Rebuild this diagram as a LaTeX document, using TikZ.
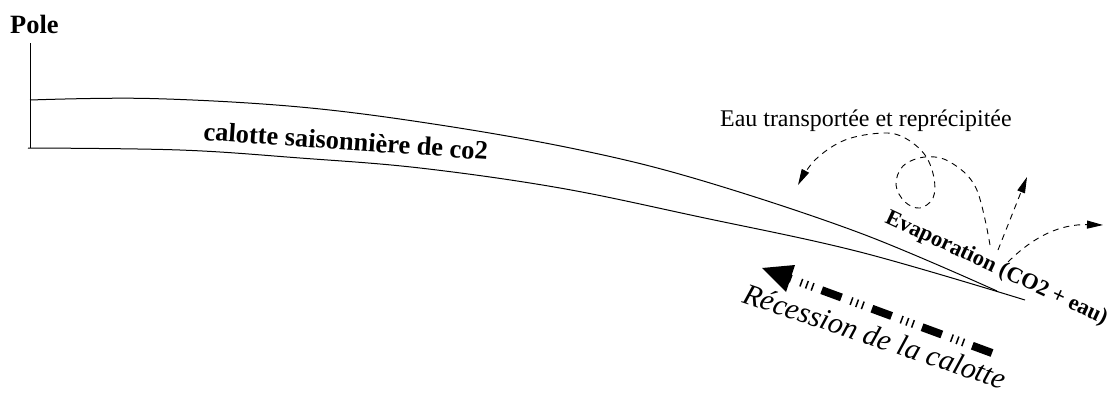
\documentclass[tikz,border=0pt]{standalone}
\usepackage{fontspec}
\setmainfont{Liberation Serif}
\usetikzlibrary{arrows.meta}
\begin{document}
\begin{tikzpicture}[x=1bp,y=-1bp,
  capline/.style={line width=1bp},
  flow/.style={line width=0.9bp, dash pattern=on 6bp off 5bp, -{Triangle[length=16bp,width=8bp]}},
  recess/.style={line width=8bp, dash pattern=on 21bp off 9bp on 1.5bp off 4.5bp on 1.5bp off 4.5bp on 1.5bp off 10bp},
  lbl/.style={inner sep=0pt, anchor=base west}]
\useasboundingbox (0,0) rectangle (1114,395);

% pole and cap
\coordinate (ptop) at (30,43);
\coordinate (pbot) at (30,148);
\coordinate (ustart) at (30,100);
\coordinate (uend) at (997,291);
\coordinate (lstart) at (28,148);
\coordinate (lend) at (1025,300);
\draw[capline] (ptop) -- (pbot);
\draw[capline] plot[smooth, tension=0.6] coordinates {(30,100) (150,98.5) (300,107) (440,125) (580,150) (700,180) (860,233) (997,291)};
\draw[capline] plot[smooth, tension=0.6] coordinates {(28,148) (180,150) (300,158) (420,168) (560,188) (700,217) (860,252) (1025,300)};

% labels
\node[lbl, font=\bfseries\fontsize{26.5}{30}\selectfont] (pole) at (10,33) {Pole};
\node[lbl, rotate=-4, font=\bfseries\fontsize{26.5}{30}\selectfont] (cap) at (203,140) {calotte saisonnière de co2};
\node[lbl, font=\fontsize{24}{28}\selectfont] (eau) at (720,126) {Eau transportée et reprécipitée};
\node[lbl, rotate=-25, font=\bfseries\fontsize{22.5}{26}\selectfont] (evap) at (884,222) {Evaporation (CO2 + eau)};
\node[lbl, rotate=-18.5, font=\itshape\fontsize{30}{34}\selectfont] (rec) at (741,302) {Récession de la calotte};

% evaporation flows
\coordinate (l0) at (990,245);
\coordinate (ltip) at (798,185);
\draw[flow] plot[smooth, tension=0.6] coordinates {(990,245) (976,188) (950,162) (925,157) (903,166) (896,185) (905,202) (920,208) (933,198) (934,178) (925,155) (905,138) (883,133) (845,140) (815,160) (798,185)};
\coordinate (s0) at (998,250);
\coordinate (stip) at (1027,177);
\draw[flow] (s0) -- (stip);
\coordinate (r0) at (1008,262);
\coordinate (rtip2) at (1103,225);
\draw[flow] (r0) .. controls (1035,235) and (1062,224) .. (rtip2);

% recession arrow
\coordinate (rtip) at (762,268);
\coordinate (rbase) at (790,278.5);
\coordinate (rtail) at (992,353);
\fill (rtip) -- (795,265) -- (786,292) -- cycle;
\draw[recess] (rtail) -- (rbase);
\end{tikzpicture}
\end{document}
